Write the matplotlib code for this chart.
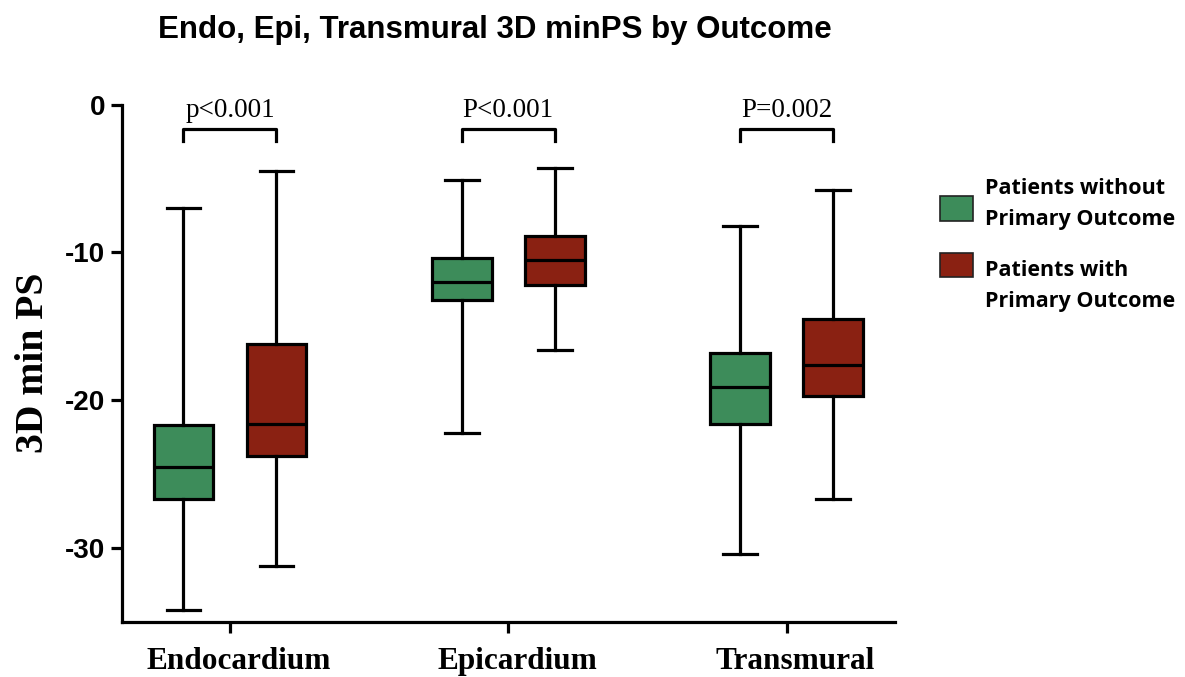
import matplotlib
matplotlib.use('Agg')
import matplotlib.pyplot as plt
from matplotlib.patches import Rectangle

plt.rcParams['axes.unicode_minus'] = False

categories = ['Endocardium', 'Epicardium', 'Transmural']
p_labels = ['p<0.001', 'P<0.001', 'P=0.002']

# five-number summaries (whisker low, Q1, median, Q3, whisker high)
without_lo = [-34.2, -22.2, -30.4]
without_q1 = [-26.7, -13.2, -21.6]
without_med = [-24.5, -12.0, -19.1]
without_q3 = [-21.7, -10.4, -16.8]
without_hi = [-7.0, -5.1, -8.2]

with_lo = [-31.2, -16.6, -26.7]
with_q1 = [-23.8, -12.2, -19.7]
with_med = [-21.6, -10.5, -17.6]
with_q3 = [-16.2, -8.9, -14.5]
with_hi = [-4.5, -4.3, -5.8]

green = '#3d8c5a'
red = '#8a2112'
lw = 2.3

W, H = 1185, 677
fig = plt.figure(figsize=(W / 100, H / 100), dpi=100)
ax = fig.add_axes([0.1027, 0.0812, 0.6523, 0.7644])


def stats(lo, q1, med, q3, hi):
    return [dict(whislo=a, q1=b, med=c, q3=d, whishi=e, fliers=[])
            for a, b, c, d, e in zip(lo, q1, med, q3, hi)]


off = 0.167
groups = [
    (stats(without_lo, without_q1, without_med, without_q3, without_hi), -off, green),
    (stats(with_lo, with_q1, with_med, with_q3, with_hi), off, red),
]
for st, dx, col in groups:
    ax.bxp(st, positions=[i + dx for i in range(len(categories))],
           widths=0.215, capwidths=0.12, patch_artist=True, showfliers=False,
           boxprops=dict(facecolor=col, edgecolor='black', linewidth=lw),
           medianprops=dict(color='black', linewidth=lw),
           whiskerprops=dict(color='black', linewidth=lw),
           capprops=dict(color='black', linewidth=lw))

# significance brackets
for i, lab in enumerate(p_labels):
    x0, x1 = i - off, i + off
    ax.plot([x0, x0, x1, x1], [-2.5, -1.65, -1.65, -2.5], color='black',
            lw=lw, solid_joinstyle='round', clip_on=False)
    ax.text(i, -0.85, lab, ha='center', va='baseline', fontsize=19.5,
            family='Liberation Serif')

ax.set_xlim(-0.389, 2.388)
ax.set_ylim(-35, 0)
ax.set_yticks([0, -10, -20, -30])
# tick marks on the majors, category names on slightly offset minors
ax.set_xticks(range(len(categories)))
ax.set_xticklabels([])
ax.set_xticks([i + 0.032 for i in range(len(categories))], minor=True)
ax.set_xticklabels(categories, minor=True, family='Liberation Serif',
                   fontweight='bold', fontsize=22.5)
ax.tick_params(axis='x', which='minor', length=0, pad=18)
for t in ax.get_yticklabels():
    t.set_family('Liberation Sans')
    t.set_fontweight('bold')
    t.set_fontsize(20)
ax.tick_params(axis='both', which='major', width=lw, length=8, direction='out')
ax.tick_params(axis='y', pad=4)
for s in ['top', 'right']:
    ax.spines[s].set_visible(False)
for s in ['left', 'bottom']:
    ax.spines[s].set_linewidth(lw)

ax.set_ylabel('3D min PS', family='Liberation Serif', fontweight='bold',
              fontsize=28.5, labelpad=9)

fig.text(495 / W, 1 - 30 / H, 'Endo, Epi, Transmural 3D minPS by Outcome',
         ha='center', va='center', fontsize=22.5, fontweight='bold',
         family='Liberation Sans')

# legend: swatch box (top, bottom in px) and label centre (px)
legend_items = [(green, 'Patients without\nPrimary Outcome', 196, 221, 204),
                (red, 'Patients with\nPrimary Outcome', 253, 277, 286)]
for col, lab, top, bot, tc in legend_items:
    fig.patches.append(Rectangle((940 / W, 1 - bot / H), 33 / W, (bot - top) / H,
                                 transform=fig.transFigure, facecolor=col,
                                 edgecolor='#222222', linewidth=1.2))
    fig.text(985 / W, 1 - tc / H, lab, ha='left', va='center',
             fontsize=15.5, fontweight='bold', family='Open Sans',
             linespacing=1.6)

fig.savefig('out.png', dpi=100)
